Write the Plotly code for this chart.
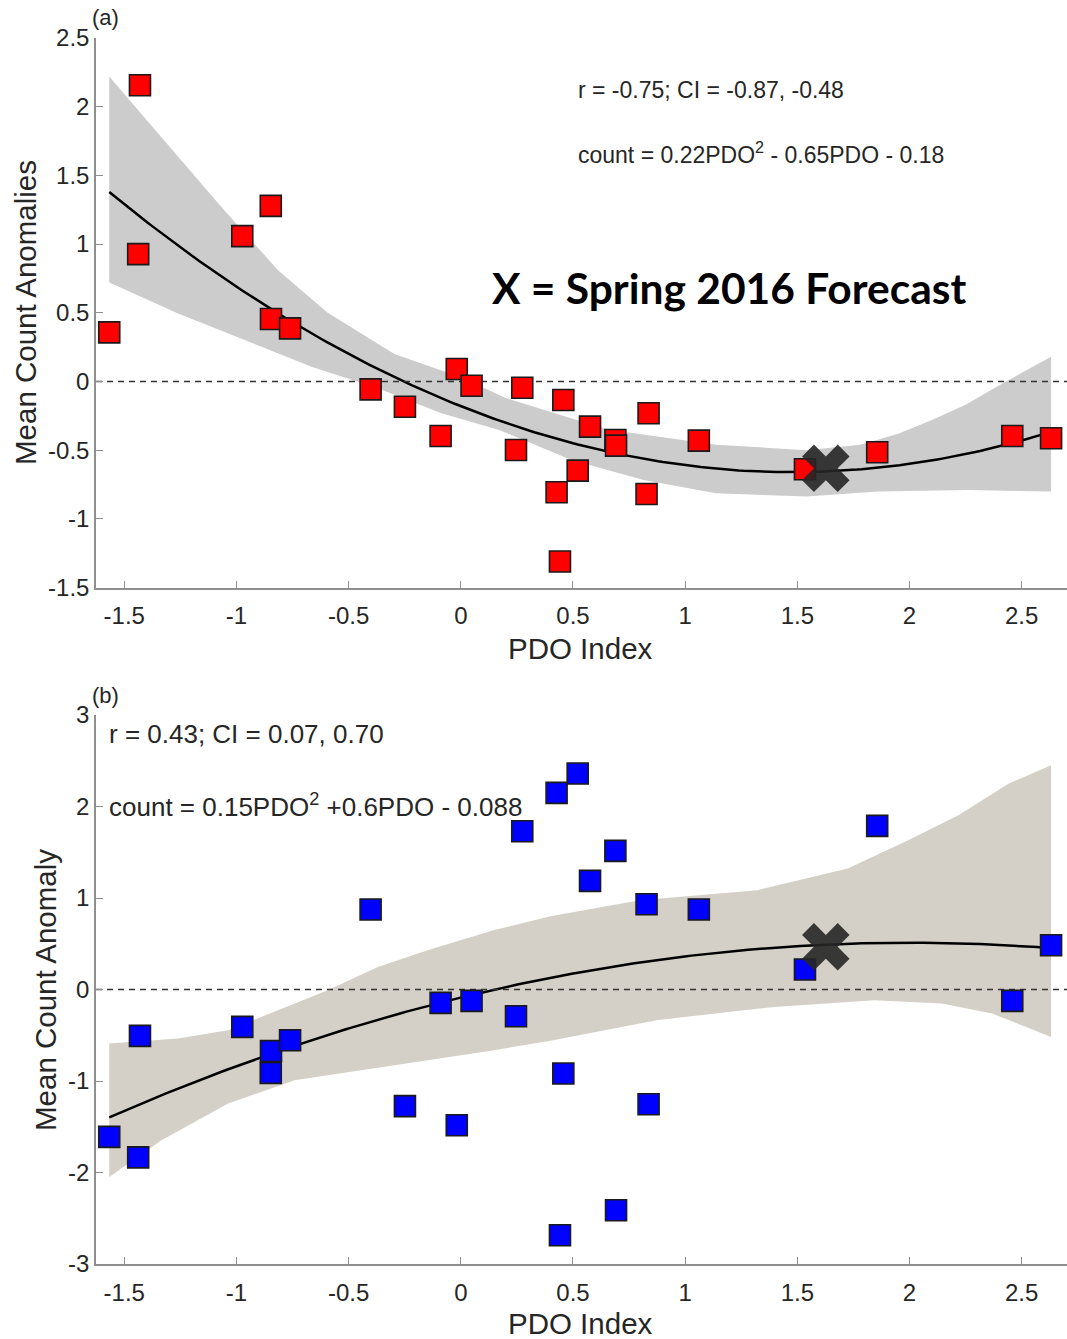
import numpy as np
import plotly.graph_objects as go

# ---- data -------------------------------------------------------------
pdo = [-1.567, -1.438, -1.430, -0.974, -0.847, -0.846, -0.761, -0.402, -0.249,
       -0.090, -0.018, 0.048, 0.246, 0.274, 0.427, 0.442, 0.457, 0.521, 0.576,
       0.689, 0.692, 0.828, 0.837, 1.061, 1.534, 1.856, 2.458, 2.631]

anom_a = [0.357, 0.927, 2.156, 1.058, 1.278, 0.454, 0.386, -0.058, -0.184,
          -0.397, 0.090, -0.031, -0.499, -0.046, -0.807, -1.311, -0.135, -0.649,
          -0.329, -0.426, -0.467, -0.819, -0.232, -0.431, -0.639, -0.516, -0.397,
          -0.414]

anom_b = [-1.611, -1.835, -0.507, -0.408, -0.911, -0.674, -0.554, 0.874, -1.275,
          -0.146, -1.483, -0.124, -0.292, 1.730, 2.149, -2.686, -0.918, 2.360,
          1.187, 1.515, -2.412, 0.932, -1.254, 0.874, 0.219, 1.788, -0.124, 0.484]

# quadratic fits (highest power first)
coef_a = [0.22, -0.65, -0.18]
coef_b = [-0.15, 0.6, -0.088]

# 2016 spring forecast
forecast_pdo = 1.627
forecast_a = -0.632
forecast_b = 0.466

# confidence envelopes
band_a_up_x = [-1.567, -1.334, -1.067, -0.815, -0.593, -0.296, 0.0, 0.2, 0.654,
               1.137, 1.539, 1.780, 1.95, 2.10, 2.25, 2.42, 2.631]
band_a_up_y = [2.22, 1.78, 1.27, 0.81, 0.50, 0.20, 0.03, -0.12, -0.35, -0.46,
               -0.50, -0.46, -0.38, -0.28, -0.17, -0.01, 0.18]
band_a_lo_x = [-1.567, -1.26, -0.963, -0.666, -0.37, -0.09, 0.171, 0.493, 0.815,
               1.137, 1.539, 1.86, 2.263, 2.631]
band_a_lo_y = [0.72, 0.495, 0.30, 0.107, -0.05, -0.23, -0.353, -0.572, -0.717,
               -0.814, -0.838, -0.802, -0.790, -0.802]

band_b_up_x = [-1.567, -1.26, -1.037, -0.815, -0.593, -0.37, -0.148, 0.149, 0.40,
               0.798, 1.321, 1.725, 1.994, 2.218, 2.443, 2.631]
band_b_up_y = [-0.59, -0.536, -0.445, -0.226, -0.008, 0.247, 0.429, 0.649, 0.80,
               0.976, 1.085, 1.322, 1.632, 1.905, 2.251, 2.45]
band_b_lo_x = [-1.567, -1.334, -1.037, -0.741, -0.444, -0.148, 0.149, 0.40, 0.873,
               1.396, 1.844, 2.144, 2.368, 2.631]
band_b_lo_y = [-2.048, -1.647, -1.246, -0.991, -0.882, -0.773, -0.663, -0.56,
               -0.335, -0.19, -0.117, -0.153, -0.262, -0.518]

x_ticks = [-1.5, -1, -0.5, 0, 0.5, 1, 1.5, 2, 2.5]
x_ticktext = ["-1.5", "-1", "-0.5", "0", "0.5", "1", "1.5", "2", "2.5"]
ya_ticks = [-1.5, -1, -0.5, 0, 0.5, 1, 1.5, 2, 2.5]
ya_ticktext = ["-1.5", "-1", "-0.5", "0", "0.5", "1", "1.5", "2", "2.5"]
yb_ticks = [-3, -2, -1, 0, 1, 2, 3]
yb_ticktext = ["-3", "-2", "-1", "0", "1", "2", "3"]

# ---- figure -----------------------------------------------------------
W, H = 1067, 1339
ML = 96
FONT = "Liberation Sans, Arial, sans-serif"
TXT = "#262626"
AXC = "#8f8f8f"


def paper(xp, yp):
    """Pixel position on the page -> paper coordinates."""
    return (xp - ML) / (W - ML), 1 - yp / H


fig = go.Figure()

panels = [
    ("x", "y", anom_a, coef_a, forecast_a, band_a_up_x, band_a_up_y,
     band_a_lo_x, band_a_lo_y, "#cccccc", "#ff0000"),
    ("x2", "y2", anom_b, coef_b, forecast_b, band_b_up_x, band_b_up_y,
     band_b_lo_x, band_b_lo_y, "#d4d0c8", "#0000ff"),
]

for xa, ya, anom, coef, fc, ux, uy, lx, ly, bandc, mc in panels:
    fig.add_trace(go.Scatter(
        x=ux + lx[::-1], y=uy + ly[::-1], xaxis=xa, yaxis=ya,
        mode="lines", fill="toself", fillcolor=bandc,
        line=dict(width=0, color=bandc), hoverinfo="skip", showlegend=False))
    xs = np.linspace(min(pdo), max(pdo), 200)
    fig.add_trace(go.Scatter(
        x=xs, y=np.polyval(coef, xs), xaxis=xa, yaxis=ya, mode="lines",
        line=dict(color="black", width=2.5), showlegend=False))
    fig.add_trace(go.Scatter(
        x=[-1.626, 2.702], y=[0, 0], xaxis=xa, yaxis=ya, mode="lines",
        line=dict(color="#333333", width=1.6, dash="6px,5px"), showlegend=False))
    fig.add_trace(go.Scatter(
        x=pdo, y=anom, xaxis=xa, yaxis=ya, mode="markers",
        marker=dict(symbol="square", size=21, color=mc,
                    line=dict(color="#1a1a1a", width=1.6)),
        showlegend=False))
    fig.add_trace(go.Scatter(
        x=[forecast_pdo], y=[fc], xaxis=xa, yaxis=ya, mode="markers",
        marker=dict(symbol="x", size=42, color="rgba(38,38,38,0.9)",
                    line=dict(width=0)),
        showlegend=False))

axis_common = dict(
    showline=True, linecolor=AXC, linewidth=1.5, ticks="inside", ticklen=7,
    tickwidth=1.2, tickcolor=AXC, showgrid=False, zeroline=False,
    tickfont=dict(family=FONT, size=24, color=TXT), mirror=False,
    automargin=False,
)

fig.update_layout(
    width=W, height=H, paper_bgcolor="white", plot_bgcolor="white",
    margin=dict(l=ML, r=0, t=0, b=0, pad=0, autoexpand=False),
    xaxis=dict(domain=[0, 1], anchor="y", range=[-1.626, 2.702],
               tickvals=x_ticks, ticktext=x_ticktext, ticklabelstandoff=6,
               **axis_common),
    yaxis=dict(domain=[1 - 587.5 / H, 1 - 38 / H], anchor="x", range=[-1.5, 2.5],
               tickvals=ya_ticks, ticktext=ya_ticktext, **axis_common),
    xaxis2=dict(domain=[0, 1], anchor="y2", range=[-1.626, 2.702],
                tickvals=x_ticks, ticktext=x_ticktext, ticklabelstandoff=6,
                **axis_common),
    yaxis2=dict(domain=[1 - 1264 / H, 1 - 715 / H], anchor="x2", range=[-3, 3],
                tickvals=yb_ticks, ticktext=yb_ticktext, **axis_common),
)

annots = [
    # panel labels
    dict(pos=(90, 18), text="(a)", size=22, xanchor="left"),
    dict(pos=(90, 695), text="(b)", size=22, xanchor="left"),
    # statistics
    dict(pos=(576, 90), text="r = -0.75; CI = -0.87, -0.48", size=23, xanchor="left"),
    dict(pos=(576, 153), text="count = 0.22PDO<sup>2</sup> - 0.65PDO - 0.18",
         size=23, xanchor="left"),
    dict(pos=(107, 734), text="r = 0.43; CI = 0.07, 0.70", size=26, xanchor="left"),
    dict(pos=(107, 806), text="count = 0.15PDO<sup>2</sup> +0.6PDO - 0.088",
         size=26, xanchor="left"),
    # axis titles
    dict(pos=(580, 648), text="PDO Index", size=29.5, xanchor="center"),
    dict(pos=(580, 1323), text="PDO Index", size=29.5, xanchor="center"),
]
for a in annots:
    xp, yp = paper(*a["pos"])
    fig.add_annotation(x=xp, y=yp, xref="paper", yref="paper", text=a["text"],
                       showarrow=False, xanchor=a["xanchor"], yanchor="middle",
                       font=dict(family=FONT, size=a["size"], color=TXT))

for pos, text in [((25, 313), "Mean Count Anomalies"), ((45, 990), "Mean Count Anomaly")]:
    xp, yp = paper(*pos)
    fig.add_annotation(x=xp, y=yp, xref="paper", yref="paper", text=text,
                       textangle=-90, showarrow=False, xanchor="center",
                       yanchor="middle", font=dict(family=FONT, size=29.5, color=TXT))

xp, yp = paper(490, 287)
fig.add_annotation(x=xp, y=yp, xref="paper", yref="paper",
                   text="<b>X = Spring 2016 Forecast</b>", showarrow=False,
                   xanchor="left", yanchor="middle",
                   font=dict(family="Lato, Open Sans, sans-serif", size=42.5,
                             color="black"))

fig.write_html("out.html")
